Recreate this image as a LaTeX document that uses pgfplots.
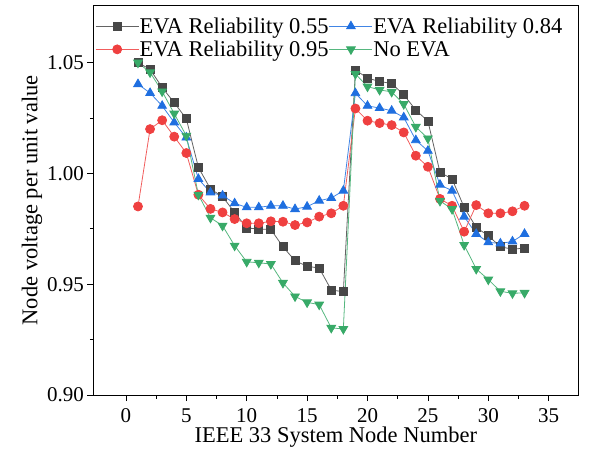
\documentclass[border=0pt]{standalone}
\usepackage{pgfplots}
\pgfplotsset{compat=1.18}
\usepackage{fontspec}
\setmainfont{Liberation Serif}
\definecolor{cK}{HTML}{474747}
\definecolor{cB}{HTML}{1F6FE0}
\definecolor{cR}{HTML}{EF4040}
\definecolor{cG}{HTML}{38AA68}
\begin{document}
\begin{tikzpicture}
\useasboundingbox (-93.3bp,-59bp) rectangle (496.7bp,395bp);
\begin{axis}[
  at={(0,0)}, anchor=south west,
  scale only axis, width=485bp, height=389.3bp,
  xmin=-2.7, xmax=37.45, ymin=0.90, ymax=1.0757,
  xtick={0,5,...,35}, ytick={0.90,0.95,1.00,1.05},
  minor x tick num=1, minor y tick num=1,
  xtick pos=left, ytick pos=left, tick align=outside,
  major tick length=6bp, minor tick length=3.5bp,
  every tick/.style={black, line width=0.8bp},
  axis line style={line width=0.9bp},
  yticklabel style={/pgf/number format/fixed, /pgf/number format/precision=2, /pgf/number format/fixed zerofill},
  /pgf/number format/assume math mode=true,
  tick label style={font=\fontsize{21bp}{25bp}\selectfont},
  xticklabel style={yshift=-4bp},
  label style={font=\fontsize{22.5bp}{27bp}\selectfont},
  xlabel={IEEE 33 System Node Number},
  ylabel={Node voltage per unit value},
  xlabel style={yshift=0bp, inner sep=1bp},
  ylabel style={yshift=-2bp},
  legend columns=2,
  legend style={at={(0,1)}, anchor=north west, draw=none, fill=none,
    font=\fontsize{22.5bp}{24.5bp}\selectfont, inner sep=0bp, outer sep=0bp,
    xshift=2bp, yshift=-11.5bp, row sep=5bp,
    /tikz/every even column/.append style={column sep=0bp},
    nodes={inner sep=0.5bp}},
  legend cell align=left,
  legend image code/.code={\draw[mark repeat=2,mark phase=2] plot coordinates {(0bp,0bp) (21.5bp,0bp) (43bp,0bp)};},
  every axis plot/.append style={line width=0.8bp},
]
\addplot[color=cK!85, mark=square*, mark size=4bp, mark options={fill=cK, draw=cK, solid}] coordinates {
(1,1.0500) (2,1.0470) (3,1.0388) (4,1.0319) (5,1.0247) (6,1.0027) (7,0.9930) (8,0.9895) (9,0.9824) (10,0.9754) (11,0.9749) (12,0.9747) (13,0.9669) (14,0.9606) (15,0.9581) (16,0.9573) (17,0.9474) (18,0.9466)
(19,1.0467) (20,1.0430) (21,1.0415) (22,1.0406) (23,1.0355) (24,1.0286) (25,1.0236) (26,1.0005) (27,0.9975) (28,0.9847) (29,0.9756) (30,0.9719) (31,0.9669) (32,0.9658) (33,0.9663)};
\addlegendentry{EVA Reliability 0.55}
\addplot[color=cB!85, mark=triangle*, mark size=5bp, mark options={fill=cB, draw=cB, solid}] coordinates {
(1,1.0403) (2,1.0363) (3,1.0305) (4,1.0230) (5,1.0162) (6,0.9975) (7,0.9914) (8,0.9900) (9,0.9865) (10,0.9847) (11,0.9847) (12,0.9854) (13,0.9854) (14,0.9839) (15,0.9850) (16,0.9877) (17,0.9889) (18,0.9922)
(19,1.0362) (20,1.0305) (21,1.0295) (22,1.0283) (23,1.0253) (24,1.0150) (25,1.0102) (26,0.9949) (27,0.9922) (28,0.9805) (29,0.9727) (30,0.9689) (31,0.9684) (32,0.9693) (33,0.9727)};
\addlegendentry{EVA Reliability 0.84}
\addplot[color=cR!85, mark=*, mark size=4.5bp, mark options={fill=cR, draw=cR, solid}] coordinates {
(1,0.9851) (2,1.0200) (3,1.0240) (4,1.0166) (5,1.0092) (6,0.9904) (7,0.9840) (8,0.9824) (9,0.9794) (10,0.9775) (11,0.9775) (12,0.9784) (13,0.9782) (14,0.9767) (15,0.9779) (16,0.9805) (17,0.9820) (18,0.9854)
(19,1.0293) (20,1.0238) (21,1.0227) (22,1.0218) (23,1.0185) (24,1.0080) (25,1.0030) (26,0.9885) (27,0.9854) (28,0.9737) (29,0.9857) (30,0.9820) (31,0.9820) (32,0.9829) (33,0.9854)};
\addlegendentry{EVA Reliability 0.95}
\addplot[color=cG!85, mark=triangle*, mark size=5bp, mark options={fill=cG, draw=cG, solid, rotate=180}] coordinates {
(1,1.0500) (2,1.0456) (3,1.0370) (4,1.0270) (5,1.0170) (6,0.9904) (7,0.9800) (8,0.9764) (9,0.9674) (10,0.9601) (11,0.9597) (12,0.9591) (13,0.9506) (14,0.9445) (15,0.9418) (16,0.9408) (17,0.9303) (18,0.9298)
(19,1.0449) (20,1.0392) (21,1.0377) (22,1.0368) (23,1.0313) (24,1.0210) (25,1.0158) (26,0.9876) (27,0.9839) (28,0.9677) (29,0.9569) (30,0.9521) (31,0.9468) (32,0.9459) (33,0.9461)};
\addlegendentry{No EVA}
\end{axis}
\end{tikzpicture}
\end{document}
